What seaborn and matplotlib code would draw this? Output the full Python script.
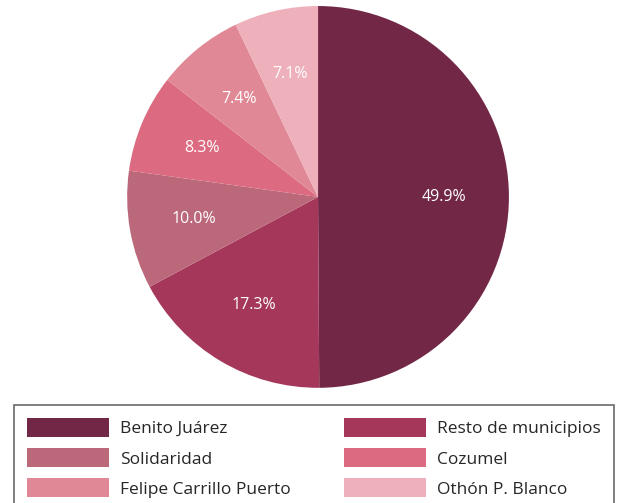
import matplotlib
matplotlib.use("Agg")
import matplotlib.pyplot as plt
import seaborn as sns

# Participación por municipio (%)
municipios = ["Benito Juárez", "Resto de municipios", "Solidaridad",
              "Cozumel", "Felipe Carrillo Puerto", "Othón P. Blanco"]
porcentajes = [49.9, 17.3, 10.0, 8.3, 7.4, 7.1]
colores = ["#722746", "#a5385a", "#bc687b", "#dc6a80", "#e08896", "#eeb0bb"]

sns.set_theme(style="white")
plt.rcParams["font.family"] = ["Open Sans", "DejaVu Sans"]

fig = plt.figure(figsize=(6.23, 5.03), dpi=100)
ax = fig.add_axes([0.204, 0.229, 0.613, 0.759])

wedges, textos = ax.pie(
    porcentajes,
    colors=sns.color_palette(colores),
    startangle=90,
    counterclock=False,
    labels=[f"{p:.1f}%" for p in porcentajes],
    labeldistance=0.66,
    textprops=dict(color="white", fontsize=11.5),
    wedgeprops=dict(linewidth=0),
)
for t in textos:
    t.set_horizontalalignment("center")
    t.set_verticalalignment("center")
ax.set_xlim(-1, 1)
ax.set_ylim(-1, 1)
ax.set_aspect("equal")

# la leyenda se llena por columnas: reordenar para que quede por filas
orden = [0, 2, 4, 1, 3, 5]
leg = fig.legend(
    [wedges[i] for i in orden], [municipios[i] for i in orden],
    loc="upper left",
    bbox_to_anchor=(14 / 623, 0, 600 / 623, 1 - 405 / 503),
    mode="expand",
    ncol=2,
    fontsize=12.5,
    handlelength=4.7,
    handleheight=1.3,
    labelspacing=0.63,
    handletextpad=0.65,
    borderpad=0.75,
    borderaxespad=0,
    fancybox=False,
    frameon=True,
)
leg.get_frame().set_edgecolor("#444444")
leg.get_frame().set_linewidth(1.2)

fig.savefig("out.png", dpi=100)
